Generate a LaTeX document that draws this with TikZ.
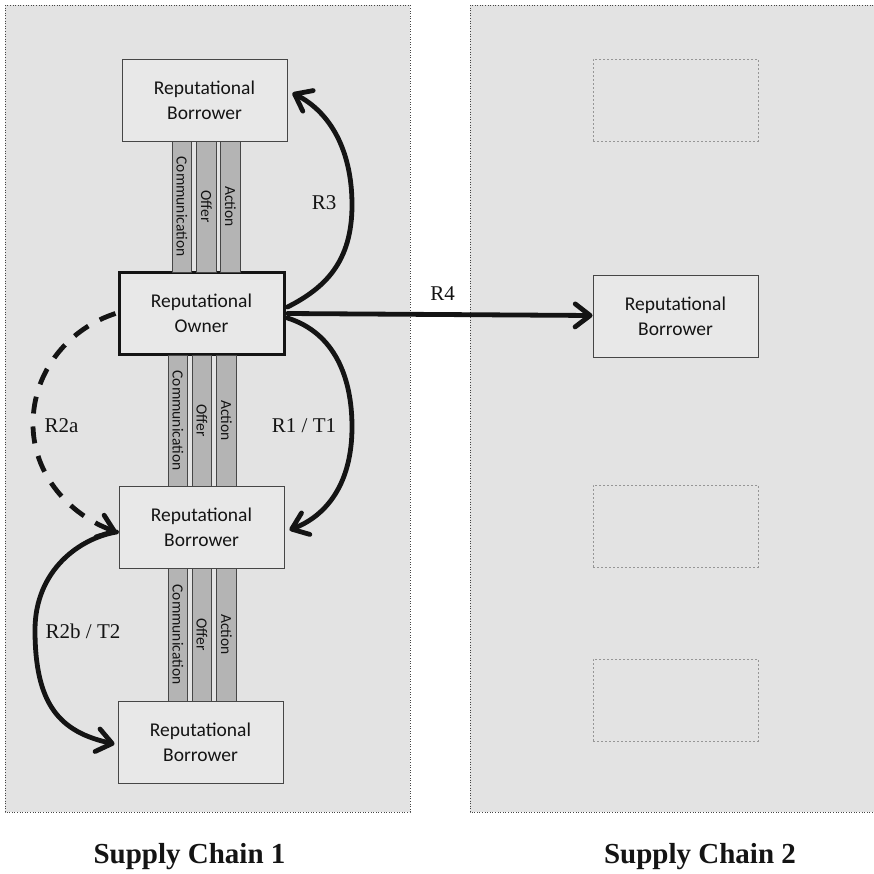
\documentclass[tikz,border=0pt]{standalone}
\usepackage{fontspec}
\setmainfont{Liberation Serif}
\newfontfamily\boxfont{Carlito}
\usetikzlibrary{arrows.meta}

\definecolor{panelfill}{RGB}{227,227,227}
\definecolor{boxfill}{RGB}{232,232,232}
\definecolor{barfill}{RGB}{180,180,180}
\definecolor{edgegray}{RGB}{70,70,70}
\definecolor{ghostgray}{RGB}{150,150,150}
\definecolor{inkblack}{RGB}{20,20,20}

\begin{document}
\begin{tikzpicture}[x=1pt,y=-1pt,
  panel/.style={draw=edgegray,fill=panelfill,line width=0.9pt,dash pattern=on 1pt off 1.6pt},
  actor/.style={draw=edgegray,fill=boxfill,line width=0.9pt,minimum width=165pt,minimum height=82pt,
    inner sep=0pt,align=center,text=inkblack,font=\boxfont\fontsize{19.5}{25}\selectfont},
  owner/.style={actor,draw=inkblack,line width=3pt},
  ghost/.style={draw=ghostgray,line width=0.9pt,dash pattern=on 2.2pt off 1.8pt,
    minimum width=165pt,minimum height=82pt,inner sep=0pt},
  channel/.style={draw=edgegray,fill=barfill,line width=0.9pt,rotate=-90,inner sep=0pt,
    minimum height=19.5pt,text=inkblack,font=\boxfont\fontsize{15.5}{18}\selectfont},
  link/.style={draw=inkblack,line width=4.8pt,line cap=round,
    -{Straight Barb[length=15pt,width=23pt,round]}},
  weaklink/.style={link,line cap=butt,dash pattern=on 17pt off 13pt},
  tag/.style={anchor=base,text=inkblack,font=\fontsize{21}{24}\selectfont,inner sep=0pt},
  chaintitle/.style={anchor=base,text=inkblack,font=\bfseries\fontsize{29}{32}\selectfont,inner sep=0pt}
]
\useasboundingbox[fill=white] (0,0) rectangle (874,873);

% the two supply chains
\path[panel] (5,5) rectangle (410,812);
\path[panel] (470,5) rectangle (880,812);

% supply chain 1
\node[actor] (b1) at (204.5,100) {Reputational\\Borrower};
\node[owner] (own) at (201.5,313.5) {Reputational\\Owner};
\node[actor] (b2) at (201.5,527) {Reputational\\Borrower};
\node[actor] (b3) at (200.5,742) {Reputational\\Borrower};

% channels between neighbouring members
\node[channel,minimum width=131pt] (c1) at (182,206.5) {Communication};
\node[channel,minimum width=131pt] (o1) at (206.5,206.5) {Offer};
\node[channel,minimum width=131pt] (a1) at (230.5,206.5) {Action};

\node[channel,minimum width=131pt] (c2) at (178,420.5) {Communication};
\node[channel,minimum width=131pt] (o2) at (202,420.5) {Offer};
\node[channel,minimum width=131pt] (a2) at (226.5,420.5) {Action};

\node[channel,minimum width=133pt] (c3) at (178,634.5) {Communication};
\node[channel,minimum width=133pt] (o3) at (202,634.5) {Offer};
\node[channel,minimum width=133pt] (a3) at (226.5,634.5) {Action};

% supply chain 2
\node[ghost] (d1) at (675.5,100) {};
\node[actor] (sb) at (675.5,316) {Reputational\\Borrower};
\node[ghost] (d2) at (675.5,526) {};
\node[ghost] (d3) at (675.5,700) {};

% reputational links
\draw[link] ([yshift=6.5pt,xshift=2pt]own.east)
  .. controls (325,288) and (352,262) .. (352,205)
  .. controls (352,150) and (330,112) .. ([yshift=7pt,xshift=5pt]b1.east);
\draw[link] ([xshift=2pt]own.east) -- ([yshift=0.5pt]sb.west);
\draw[link] ([yshift=-4.5pt,xshift=2pt]own.east)
  .. controls (335,333) and (352,378) .. (352,427)
  .. controls (352,482) and (328,515) .. ([yshift=-3pt,xshift=5pt]b2.east);
\draw[weaklink] ([xshift=-2pt]own.west)
  .. controls (70,328) and (33,370) .. (33,424)
  .. controls (33,475) and (70,515) .. ([yshift=-5pt,xshift=-2pt]b2.west);
\draw[link] ([yshift=-5pt,xshift=-2pt]b2.west)
  .. controls (80,538) and (35,570) .. (35,630)
  .. controls (35,705) and (60,732) .. ([yshift=-2pt,xshift=-3pt]b3.west);

% link labels
\node[tag] (t3) at (324,209) {R3};
\node[tag] (t4) at (442.5,300) {R4};
\node[tag] (t1) at (304,432) {R1 / T1};
\node[tag] (t2a) at (61.5,432) {R2a};
\node[tag] (t2b) at (83,638) {R2b / T2};

% captions
\node[chaintitle] (sc1) at (189.5,863) {Supply Chain 1};
\node[chaintitle] (sc2) at (700,863) {Supply Chain 2};
\end{tikzpicture}
\end{document}
